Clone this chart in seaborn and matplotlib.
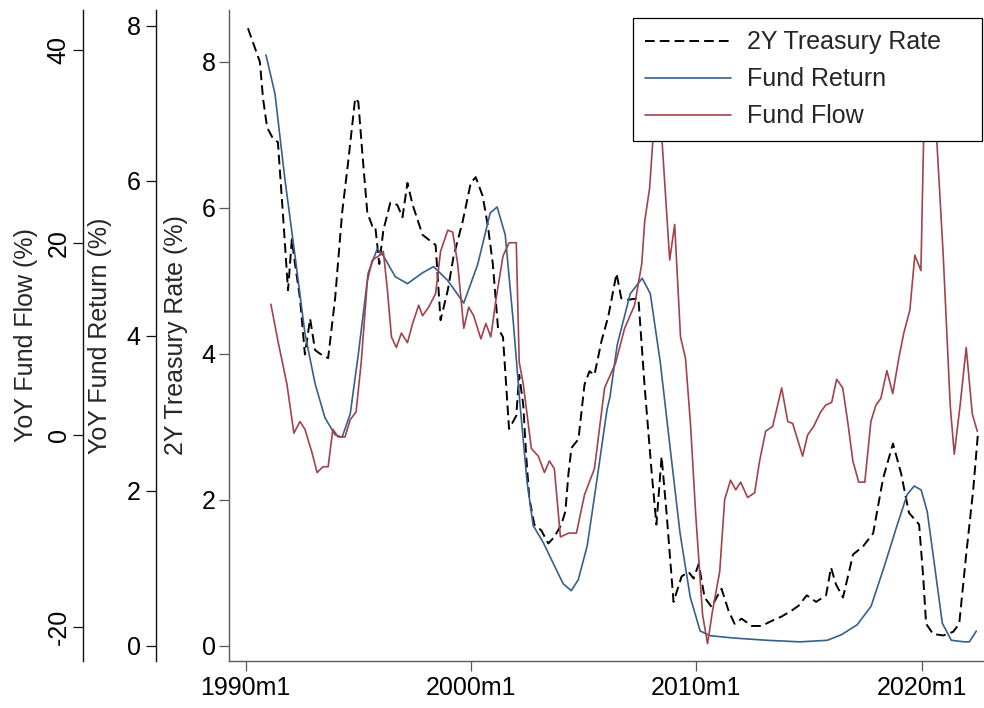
import matplotlib
matplotlib.use("Agg")
import matplotlib.pyplot as plt
import numpy as np
import pandas as pd
import seaborn as sns

# ---------------- data ----------------
treasury_t = [1990.10, 1990.63, 1990.77, 1990.95, 1991.21, 1991.43, 1991.65, 1991.88,
              1992.05, 1992.19, 1992.41, 1992.63, 1992.86, 1993.08, 1993.30, 1993.66,
              1993.97, 1994.28, 1994.55, 1994.86, 1995.00, 1995.18, 1995.40, 1995.62,
              1995.75, 1995.93, 1996.11, 1996.42, 1996.73, 1996.96, 1997.18, 1997.41,
              1997.85, 1998.30, 1998.43, 1998.65, 1998.97, 1999.23, 1999.63, 1999.99,
              2000.21, 2000.52, 2000.75, 2000.97, 2001.20, 2001.42, 2001.56, 2001.69,
              2002.01, 2002.14, 2002.32, 2002.45, 2002.59, 2002.81, 2003.12, 2003.43,
              2003.70, 2004.01, 2004.19, 2004.33, 2004.46, 2004.77, 2005.04, 2005.26,
              2005.48, 2005.79, 2006.10, 2006.46, 2006.67, 2006.99, 2007.43, 2007.70,
              2008.01, 2008.23, 2008.46, 2008.68, 2008.99, 2009.35, 2009.66, 2009.88,
              2010.11, 2010.37, 2010.68, 2010.90, 2011.12, 2011.43, 2011.70, 2012.01,
              2012.46, 2012.90, 2013.35, 2013.79, 2014.23, 2014.55, 2014.90, 2015.32,
              2015.76, 2015.98, 2016.20, 2016.51, 2016.96, 2017.40, 2017.85, 2018.29,
              2018.73, 2019.09, 2019.44, 2019.89, 2020.07, 2020.20, 2020.51, 2020.96,
              2021.40, 2021.67, 2021.98, 2022.29, 2022.51]
treasury_v = [8.46, 8.00, 7.50, 7.10, 6.95, 6.90, 5.93, 4.87,
              5.57, 5.23, 4.76, 3.99, 4.48, 4.05, 4.00, 3.94,
              4.76, 5.93, 6.63, 7.50, 7.45, 6.74, 5.93, 5.75,
              5.75, 5.23, 5.69, 6.07, 6.04, 5.87, 6.34, 6.04,
              5.63, 5.52, 5.49, 4.46, 4.87, 5.34, 5.81, 6.34,
              6.42, 6.16, 5.75, 5.23, 4.35, 4.23, 3.58, 2.97,
              3.15, 3.71, 3.30, 2.60, 2.02, 1.66, 1.58, 1.40,
              1.49, 1.66, 1.84, 2.37, 2.71, 2.83, 3.58, 3.76,
              3.71, 4.17, 4.52, 5.10, 4.76, 4.74, 4.76, 3.58,
              2.41, 1.66, 2.59, 1.82, 0.60, 0.95, 1.01, 0.92,
              1.12, 0.66, 0.53, 0.66, 0.78, 0.48, 0.30, 0.37,
              0.27, 0.27, 0.34, 0.40, 0.48, 0.55, 0.69, 0.60,
              0.69, 1.07, 0.84, 0.66, 1.25, 1.36, 1.54, 2.29,
              2.77, 2.36, 1.82, 1.66, 0.95, 0.30, 0.16, 0.14,
              0.19, 0.30, 1.25, 2.13, 2.94]

return_t = [1990.90, 1991.30, 1991.74, 1992.19, 1992.63, 1993.08, 1993.52, 1993.97,
            1994.28, 1994.64, 1995.00, 1995.44, 1995.84, 1996.11, 1996.64, 1997.18,
            1997.85, 1998.34, 1998.97, 1999.68, 2000.30, 2000.85, 2001.16, 2001.52,
            2001.87, 2002.18, 2002.49, 2002.76, 2003.21, 2003.64, 2004.09, 2004.45,
            2004.76, 2005.16, 2005.60, 2006.04, 2006.17, 2006.49, 2006.62, 2007.07,
            2007.60, 2007.96, 2008.40, 2008.84, 2009.28, 2009.73, 2010.17, 2010.61,
            2011.63, 2013.14, 2014.61, 2015.81, 2016.43, 2017.14, 2017.76, 2018.34,
            2018.92, 2019.36, 2019.67, 2019.98, 2020.25, 2020.56, 2020.92, 2021.32,
            2021.90, 2022.12, 2022.43]
return_v = [7.62, 7.12, 6.02, 5.03, 4.03, 3.38, 2.94, 2.72,
            2.69, 2.99, 3.76, 4.81, 5.12, 5.03, 4.76, 4.67,
            4.81, 4.89, 4.71, 4.42, 4.92, 5.58, 5.66, 5.30,
            4.20, 3.10, 2.11, 1.55, 1.33, 1.07, 0.80, 0.71,
            0.85, 1.29, 2.16, 3.05, 3.21, 3.88, 4.03, 4.54,
            4.74, 4.54, 3.66, 2.55, 1.45, 0.63, 0.19, 0.13,
            0.10, 0.07, 0.05, 0.07, 0.14, 0.27, 0.51, 1.02,
            1.56, 1.95, 2.06, 2.01, 1.73, 1.07, 0.29, 0.07,
            0.05, 0.05, 0.19]

flow_t = [1991.12, 1991.43, 1991.83, 1992.14, 1992.41, 1992.63, 1992.94, 1993.17,
          1993.43, 1993.66, 1993.87, 1994.10, 1994.41, 1994.64, 1994.90, 1995.13,
          1995.40, 1995.62, 1995.89, 1996.11, 1996.29, 1996.47, 1996.69, 1996.91,
          1997.18, 1997.41, 1997.68, 1997.85, 1998.12, 1998.43, 1998.65, 1998.97,
          1999.19, 1999.41, 1999.68, 1999.90, 2000.12, 2000.44, 2000.66, 2000.88,
          2001.11, 2001.42, 2001.69, 2002.01, 2002.14, 2002.32, 2002.68, 2002.99,
          2003.26, 2003.48, 2003.70, 2003.97, 2004.33, 2004.68, 2005.04, 2005.48,
          2005.93, 2006.42, 2006.82, 2007.26, 2007.58, 2007.71, 2007.93, 2008.11,
          2008.29, 2008.51, 2008.82, 2009.04, 2009.30, 2009.52, 2009.75, 2009.97,
          2010.28, 2010.50, 2010.72, 2011.04, 2011.26, 2011.52, 2011.75, 2011.97,
          2012.28, 2012.59, 2012.81, 2013.08, 2013.39, 2013.79, 2014.06, 2014.28,
          2014.72, 2014.94, 2015.21, 2015.52, 2015.74, 2016.01, 2016.23, 2016.50,
          2016.72, 2016.95, 2017.21, 2017.48, 2017.75, 2017.97, 2018.19, 2018.46,
          2018.72, 2018.99, 2019.21, 2019.48, 2019.70, 2019.97, 2020.10, 2020.30,
          2020.50, 2020.69, 2020.96, 2021.27, 2021.45, 2021.71, 2021.98, 2022.25,
          2022.47]
flow_v = [13.6, 9.8, 5.3, 0.2, 1.4, 0.6, -1.8, -3.9,
          -3.3, -3.3, 0.6, -0.2, -0.2, 1.6, 2.4, 7.6,
          16.0, 18.2, 18.6, 19.1, 15.1, 10.2, 9.1, 10.6,
          9.6, 11.6, 13.5, 12.4, 13.3, 14.7, 19.1, 21.3,
          21.1, 17.8, 11.1, 13.3, 12.4, 10.0, 11.6, 10.2,
          14.1, 18.6, 20.0, 20.0, 7.6, 5.3, -1.4, -2.2,
          -3.9, -2.7, -3.5, -10.6, -10.2, -10.2, -6.2, -3.5,
          4.9, 7.5, 11.1, 13.5, 17.8, 22.2, 25.7, 32.0,
          38.0, 29.5, 18.2, 21.9, 10.2, 8.0, 0.9, -8.1,
          -18.7, -21.7, -18.3, -14.2, -6.7, -4.7, -5.7, -4.9,
          -6.5, -6.0, -2.7, 0.4, 0.9, 4.9, 1.4, 1.2,
          -2.2, 0.0, 0.9, 2.4, 3.1, 3.4, 5.8, 4.9,
          1.4, -2.7, -4.9, -4.9, 1.4, 3.1, 3.8, 6.7,
          4.3, 8.0, 10.6, 13.0, 18.7, 17.1, 32.0, 40.0,
          38.0, 30.0, 18.7, 3.1, -2.0, 3.1, 9.1, 2.2,
          0.4]

xtick_pos = [1990, 2000, 2010, 2020]
xtick_labels = ["1990m1", "2000m1", "2010m1", "2020m1"]
treasury_ticks = [0, 2, 4, 6, 8]
return_ticks = [0, 2, 4, 6, 8]
flow_ticks = [-20, 0, 20, 40]

df_tr = pd.DataFrame({"t": treasury_t, "v": treasury_v})
df_re = pd.DataFrame({"t": return_t, "v": return_v})
df_fl = pd.DataFrame({"t": flow_t, "v": flow_v})

# ---------------- style ----------------
sns.set_theme(style="ticks")
plt.rcParams["font.family"] = ["Liberation Sans", "DejaVu Sans"]

BLUE = "#35608c"
RED = "#a2424a"
GREY = "#5a5a5a"
FS = 18

W, H = 984, 708
fig = plt.figure(figsize=(W / 100, H / 100), dpi=100)
ax = fig.add_axes([229 / W, (H - 661) / H, (984 - 229) / W, (661 - 10) / H])
ax_ret = ax.twinx()
ax_flow = ax.twinx()

sns.lineplot(data=df_tr, x="t", y="v", ax=ax, color="black", linewidth=1.4,
             label="2Y Treasury Rate", legend=False)
ax.lines[-1].set_dashes([5, 2.6])
sns.lineplot(data=df_re, x="t", y="v", ax=ax_ret, color=BLUE, linewidth=1.2,
             label="Fund Return", legend=False)
sns.lineplot(data=df_fl, x="t", y="v", ax=ax_flow, color=RED, linewidth=1.2,
             label="Fund Flow", legend=False)

# ---------------- axes ----------------
ax.set_xlim(1989.26, 2022.77)
ax.set_ylim(-0.21, 8.71)
ax_ret.set_ylim(-0.197, 8.20)
ax_flow.set_ylim(-23.5, 44.2)

ax.set_xticks(xtick_pos)
ax.set_xticklabels(xtick_labels)
ax.set_yticks(treasury_ticks)
ax.set_yticklabels([str(v) for v in treasury_ticks])
ax_ret.set_yticks(return_ticks)
ax_ret.set_yticklabels([str(v) for v in return_ticks])
ax_flow.set_yticks(flow_ticks)
ax_flow.set_yticklabels([str(v) for v in flow_ticks])

for a in (ax, ax_ret, ax_flow):
    a.set_xlabel("")
    for s in ("top", "right"):
        a.spines[s].set_visible(False)

for s in ("left", "bottom"):
    ax.spines[s].set_color(GREY)
    ax.spines[s].set_linewidth(1.0)
ax.tick_params(axis="both", which="major", length=7, width=0.9, color=GREY,
               labelsize=FS, labelcolor="black")
ax.tick_params(axis="y", pad=2.5)
ax.tick_params(axis="x", pad=3.5)

for a, pos, pad in ((ax_ret, -0.0967, 4.0), (ax_flow, -0.193, 2.0)):
    a.spines["bottom"].set_visible(False)
    a.spines["left"].set_visible(True)
    a.spines["left"].set_position(("axes", pos))
    a.spines["left"].set_color("#111111")
    a.spines["left"].set_linewidth(1.0)
    a.yaxis.set_ticks_position("left")
    a.yaxis.set_label_position("left")
    a.tick_params(axis="y", length=7, width=0.9, color="#111111",
                  labelsize=FS, labelcolor="black", pad=pad)

ax_flow.tick_params(axis="y", labelrotation=90)
plt.setp(ax_flow.get_yticklabels(), va="center")

ax.set_ylabel("2Y Treasury Rate (%)", fontsize=FS)
ax_ret.set_ylabel("YoY Fund Return (%)", fontsize=FS)
ax_flow.set_ylabel("YoY Fund Flow (%)", fontsize=FS)
ax.yaxis.set_label_coords(-0.0543, 0.5)
ax_ret.yaxis.set_label_coords(-0.155, 0.5)
ax_flow.yaxis.set_label_coords(-0.253, 0.5)

# ---------------- legend ----------------
handles = [ax.lines[-1], ax_ret.lines[-1], ax_flow.lines[-1]]
labels = ["2Y Treasury Rate", "Fund Return", "Fund Flow"]
leg = ax_flow.legend(handles, labels, loc="upper left",
                     bbox_to_anchor=(0.535, 0.0, 0.462, 0.988),
                     mode="expand", ncols=1, fontsize=FS, frameon=True,
                     fancybox=False, shadow=False, framealpha=1.0,
                     edgecolor="black", facecolor="white",
                     borderpad=0.5, labelspacing=0.52, handlelength=3.44,
                     handletextpad=0.64, borderaxespad=0.0)
leg.get_frame().set_linewidth(0.9)
leg.set_zorder(10)

fig.savefig("out.png", dpi=100)
